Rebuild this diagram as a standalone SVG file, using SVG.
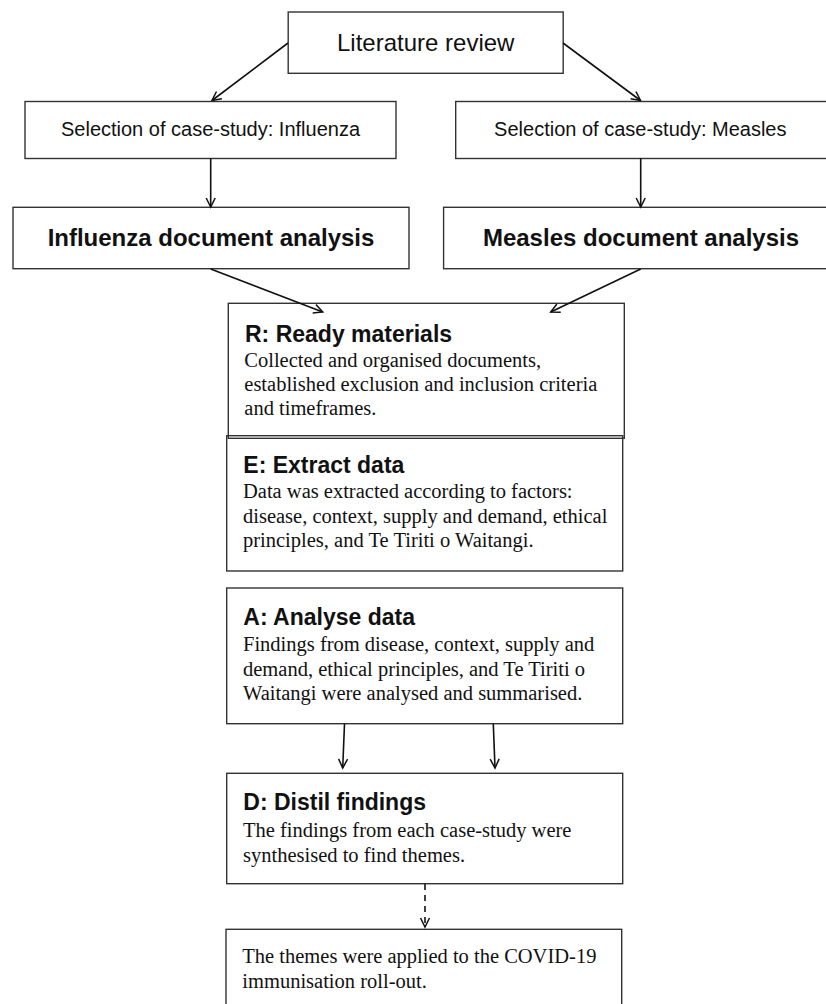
<svg xmlns="http://www.w3.org/2000/svg" width="826" height="1004" viewBox="0 0 826 1004">
<defs>
<marker id="arr" markerUnits="userSpaceOnUse" viewBox="-10 -6 12 12" refX="0" refY="0" markerWidth="12" markerHeight="12" orient="auto">
<path d="M-9,-4.5 L0,0 L-9,4.5" fill="none" stroke="#111" stroke-width="1.5"/>
</marker>
<style>
.box{fill:#fff;stroke:#333;stroke-width:1.4}
.sans{font-family:"Liberation Sans",Arial,sans-serif;fill:#111}
.hd{font-family:"Liberation Sans",Arial,sans-serif;font-weight:bold;font-size:23px;fill:#111}
.body{font-family:"Liberation Serif","Times New Roman",serif;font-size:20.5px;fill:#111}
.con{fill:none;stroke:#111;stroke-width:1.6}
</style>
</defs>
<rect width="826" height="1004" fill="#fff"/>
<g id="lit">
<rect class="box" x="288.2" y="12" width="275" height="61.3"/>
<text class="sans" x="425.7" y="51" font-size="24" text-anchor="middle">Literature review</text>
</g>
<g id="sel-influenza">
<rect class="box" x="25" y="101.5" width="371" height="57"/>
<text class="sans" x="210.5" y="136" font-size="20" text-anchor="middle">Selection of case-study: Influenza</text>
</g>
<g id="sel-measles">
<rect class="box" x="455.7" y="101.5" width="380" height="57"/>
<text class="sans" x="640.3" y="136" font-size="20" text-anchor="middle">Selection of case-study: Measles</text>
</g>
<g id="doc-influenza">
<rect class="box" x="13" y="207.3" width="396" height="61.4"/>
<text class="sans" x="211" y="246" font-size="24" font-weight="bold" text-anchor="middle">Influenza document analysis</text>
</g>
<g id="doc-measles">
<rect class="box" x="443.6" y="207.3" width="392" height="61.4"/>
<text class="sans" x="641" y="246" font-size="24" font-weight="bold" text-anchor="middle">Measles document analysis</text>
</g>
<g id="R">
<rect class="box" x="228.3" y="303.3" width="396" height="135"/>
<text class="hd" x="245" y="341.7">R: Ready materials</text>
<text class="body" x="244.3" y="366.7">Collected and organised documents,</text>
<text class="body" x="244.3" y="391">established exclusion and inclusion criteria</text>
<text class="body" x="244.3" y="415">and timeframes.</text>
</g>
<g id="E">
<rect class="box" x="226.7" y="435.7" width="396" height="135.3" style="fill:none"/>
<text class="hd" x="243.3" y="472.7">E: Extract data</text>
<text class="body" x="243" y="498.3">Data was extracted according to factors:</text>
<text class="body" x="243" y="522.7">disease, context, supply and demand, ethical</text>
<text class="body" x="243" y="547.3">principles, and Te Tiriti o Waitangi.</text>
</g>
<g id="A">
<rect class="box" x="226.7" y="588" width="396" height="135.7"/>
<text class="hd" x="243.3" y="625">A: Analyse data</text>
<text class="body" x="243" y="651">Findings from disease, context, supply and</text>
<text class="body" x="243" y="675.7">demand, ethical principles, and Te Tiriti o</text>
<text class="body" x="243" y="700">Waitangi were analysed and summarised.</text>
</g>
<g id="D">
<rect class="box" x="226.7" y="773.3" width="396" height="110.4"/>
<text class="hd" x="243.3" y="810">D: Distil findings</text>
<text class="body" x="243" y="836.7">The findings from each case-study were</text>
<text class="body" x="243" y="861.7">synthesised to find themes.</text>
</g>
<g id="final">
<rect class="box" x="226" y="929.3" width="395.7" height="90"/>
<text class="body" x="242.3" y="963.3">The themes were applied to the COVID-19</text>
<text class="body" x="242.3" y="988.3">immunisation roll-out.</text>
</g>
<g id="connectors">
<line class="con" x1="288" y1="43" x2="212" y2="100.5" marker-end="url(#arr)"/>
<line class="con" x1="563" y1="43" x2="640.5" y2="100.5" marker-end="url(#arr)"/>
<line class="con" x1="210.7" y1="158" x2="210.7" y2="207" marker-end="url(#arr)"/>
<line class="con" x1="640.7" y1="158" x2="640.7" y2="207" marker-end="url(#arr)"/>
<line class="con" x1="210.7" y1="269" x2="322.7" y2="312" marker-end="url(#arr)"/>
<line class="con" x1="640.7" y1="269" x2="550.7" y2="312" marker-end="url(#arr)"/>
<line class="con" x1="344.5" y1="724" x2="342.7" y2="768" marker-end="url(#arr)"/>
<line class="con" x1="493.3" y1="724" x2="495" y2="768" marker-end="url(#arr)"/>
<line class="con" x1="425" y1="884" x2="425" y2="927" stroke-dasharray="6,5" marker-end="url(#arr)"/>
</g>
</svg>
